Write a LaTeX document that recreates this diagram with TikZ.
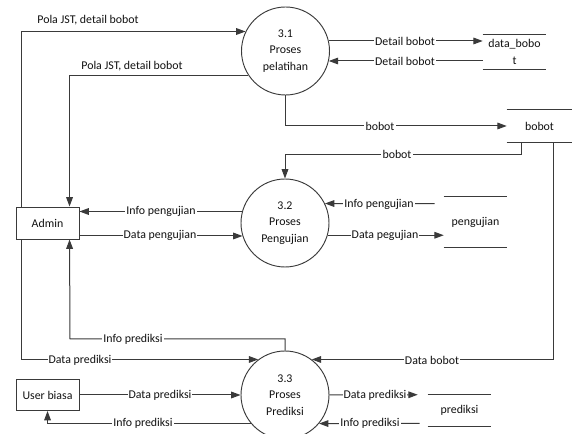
\documentclass[tikz,border=0pt]{standalone}
\usepackage{fontspec}
\setmainfont{Carlito}
\usetikzlibrary{arrows.meta,calc}
\definecolor{ln}{HTML}{3A3A3A}
\definecolor{tx}{HTML}{111111}
\begin{document}
\begin{tikzpicture}[x=0.75pt,y=-0.75pt,
  font=\fontsize{8.9}{12.4}\selectfont,
  every node/.style={text=tx},
  proc/.style={circle,draw=ln,line width=0.7pt,minimum size=66pt,inner sep=0pt,align=center},
  ent/.style={rectangle,draw=ln,line width=0.7pt,minimum width=47.25pt,inner sep=0pt},
  store/.style={inner sep=0pt,align=center,minimum width=47.25pt},
  flow/.style={draw=ln,line width=0.75pt,-{Triangle[length=7pt,width=5pt]}},
  wire/.style={draw=ln,line width=0.75pt},
  lbl/.style={fill=white,inner sep=0.8pt}
]
\useasboundingbox (0,0) rectangle (572,434);
\clip (0,0) rectangle (572,434);

% processes
\node[proc] (p1) at (285.5,51) {3.1\\Proses\\pelatihan};
\node[proc] (p2) at (285,223) {3.2\\Proses\\Pengujian};
\node[proc] (p3) at (285,395) {3.3\\Proses\\Prediksi};

% external entities
\node[ent,minimum height=24pt] (admin) at (47.5,223) {Admin};
\node[ent,minimum height=23.25pt] (user) at (47.5,395) {User biasa};

% data stores (open boxes)
\node[store,minimum height=25.5pt] (dbs) at (514.5,52) {data\_bobo\\t};
\node[store,minimum width=48.75pt,minimum height=24pt] (bst) at (539.5,126) {bobot};
\node[store,minimum height=37.5pt] (pst) at (475.5,222) {pengujian};
\node[store,minimum height=23.25pt] (prs) at (459.5,410.5) {prediksi};
\foreach \s in {dbs,bst,pst,prs}
  \draw[wire] (\s.north west) -- (\s.north east) (\s.south west) -- (\s.south east);

% flows of process 3.1
\draw[flow] ($(admin.north west)+(6,0)$) |- (p1.154);
\draw[flow] (p1.213) -| ($(admin.north west)+(54,0)$);
\draw[flow] (p1.13) -- (p1.13 -| dbs.west);
\draw[flow] (p1.347 -| dbs.west) -- (p1.347);
\draw[flow] (p1.south) |- (bst.west);

% flows of process 3.2
\draw[flow] ($(bst.south west)+(15,0)$) |- ($(p2.north)+(0,-24)$) -- (p2.north);
\draw[flow] (p2.165) -- (p2.165 -| admin.east);
\draw[flow] (p2.197 -| admin.east) -- (p2.197);
\draw[flow] ($(pst.north west)+(-9,7)$) -- (p2.26);
\draw[flow] (p2.344) -- (p2.344 -| pst.west);

% flows of process 3.3
\coordinate (ipk) at (70,339);
\draw[flow] (p3.north) |- (ipk) -- ($(admin.south west)+(54,0)$);
\draw[flow] ($(admin.south west)+(6,0)$) |- (p3.127);
\draw[flow] ($(bst.south west)+(47,0)$) |- (p3.53);
\draw[flow] (user) -- (p3);
\draw[flow] (p3.220) -| ($(user.south west)+(32,0)$);
\draw[flow] (p3.east) -- ($(prs.north west)+(-10,0)$);
\draw[flow] ($(prs.south west)+(-8,-3)$) -- (p3.320);

% flow labels
\node (t1) at (88,20) {Pola JST, detail bobot};
\node (t2) at (132,66) {Pola JST, detail bobot};
\node[lbl] (t3) at (405,41) {Detail bobot};
\node[lbl] (t4) at (405,61) {Detail bobot};
\node[lbl] (t5) at (380,126) {bobot};
\node[lbl] (t6) at (397,154) {bobot};
\node[lbl] (t7) at (161,211.7) {Info pengujian};
\node[lbl] (t8) at (160,235.7) {Data pengujian};
\node[lbl] (t9) at (379,204) {Info pengujian};
\node[lbl] (t10) at (385,235) {Data pegujian};
\node[lbl] (t11) at (133,339) {Info prediksi};
\node[lbl] (t12) at (80,360) {Data prediksi};
\node[lbl] (t13) at (432,360) {Data bobot};
\node[lbl] (t14) at (160,395) {Data prediksi};
\node[lbl] (t15) at (143,423) {Info prediksi};
\node[lbl] (t16) at (375,395) {Data prediksi};
\node[lbl] (t17) at (370,423) {Info prediksi};
\end{tikzpicture}
\end{document}
